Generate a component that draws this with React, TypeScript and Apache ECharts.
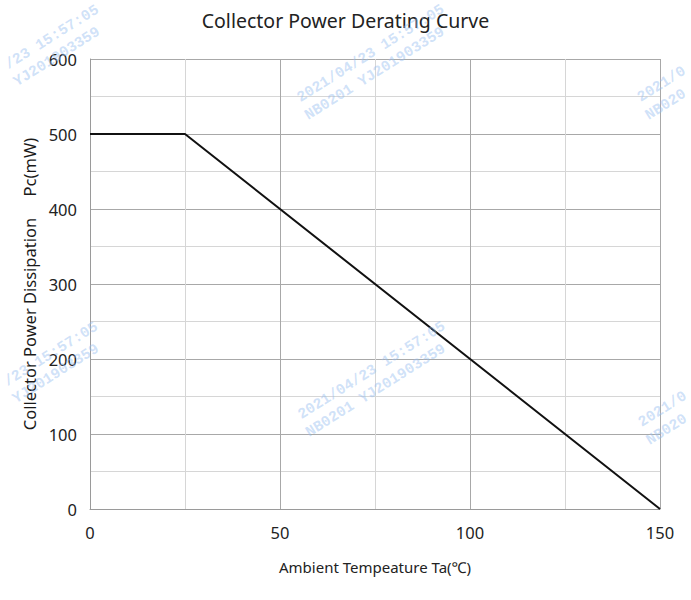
import React, { useEffect, useRef } from "react";
import * as echarts from "echarts";

const title = "Collector Power Derating Curve";
const xName = "Ambient Tempeature Ta(\u2103)";
const yName = "Collector Power Dissipation     Pc(mW)";
const temperature = [0, 25, 150];
const power = [500, 500, 0];

// watermark pieces: [text, x, y, align]
const watermarkPieces: [string, number, number, string][] = [
  ["/23 15:57:05", 98, 9, "right"],
  ["YJ201903359", 99, 31, "right"],
  ["2021/04/23 15:57:05", 371, 54, "center"],
  ["NB0201 YJ201903359", 375, 74, "center"],
  ["2021/0", 639, 99, "left"],
  ["NB020", 647, 117, "left"],
  ["/23 15:57:05", 97, 326, "right"],
  ["YJ201903359", 98, 348, "right"],
  ["2021/04/23 15:57:05", 372, 371, "center"],
  ["NB0201 YJ201903359", 376, 391, "center"],
  ["2021/0", 640, 424, "left"],
  ["NB020", 648, 442, "left"],
];

export default function App() {
  const ref = useRef<HTMLDivElement>(null);
  useEffect(() => {
    if (!ref.current) return;
    document.body.style.margin = "0";
    const chart = echarts.init(ref.current, undefined, { renderer: "svg" });
    const font = "'Noto Sans', 'Open Sans', sans-serif";
    const data = temperature.map((t, i) => [t, power[i]]);
    chart.setOption({
      animation: false,
      backgroundColor: "#ffffff",
      title: {
        text: title,
        left: "center",
        top: 5,
        textStyle: { fontFamily: font, fontSize: 19.5, fontWeight: "normal", color: "#222" },
      },
      grid: { left: 90, right: 31, top: 59, bottom: 91 },
      xAxis: {
        type: "value",
        min: 0,
        max: 150,
        interval: 50,
        name: xName,
        nameLocation: "middle",
        nameGap: 50,
        nameTextStyle: { fontFamily: font, fontSize: 15, color: "#222" },
        axisLine: { show: true, lineStyle: { color: "#9a9a9a", width: 1 } },
        axisTick: { show: false },
        minorTick: { show: false, splitNumber: 2 },
        axisLabel: { fontFamily: font, fontSize: 16.5, color: "#222", margin: 15 },
        splitLine: { show: true, lineStyle: { color: "#a8a8a8", width: 1 } },
        minorSplitLine: { show: true, lineStyle: { color: "#d6d6d6", width: 1 } },
      },
      yAxis: {
        type: "value",
        min: 0,
        max: 600,
        interval: 100,
        name: yName,
        nameLocation: "middle",
        nameRotate: 90,
        nameGap: 52,
        nameTextStyle: { fontFamily: font, fontSize: 16.5, color: "#1a1a1a" },
        axisLine: { show: true, lineStyle: { color: "#9a9a9a", width: 1 } },
        axisTick: { show: false },
        minorTick: { show: false, splitNumber: 2 },
        axisLabel: { fontFamily: font, fontSize: 16.5, color: "#222", margin: 13 },
        splitLine: { show: true, lineStyle: { color: "#a8a8a8", width: 1 } },
        minorSplitLine: { show: true, lineStyle: { color: "#d6d6d6", width: 1 } },
      },
      series: [
        {
          type: "line",
          data,
          symbol: "none",
          lineStyle: { color: "#111", width: 2 },
          z: 5,
        },
      ],
      graphic: watermarkPieces.map(([text, x, y, align]) => ({
        type: "text",
        x,
        y,
        rotation: 0.56,
        z: 10,
        silent: true,
        style: {
          text,
          align,
          verticalAlign: "middle",
          fontFamily: "'Liberation Mono', 'DejaVu Sans Mono', monospace",
          fontWeight: "bold",
          fontSize: 15,
          fill: "rgba(150, 190, 240, 0.45)",
        },
      })),
    });
    return () => chart.dispose();
  }, []);
  return <div ref={ref} style={{ width: 691, height: 600 }} />;
}
